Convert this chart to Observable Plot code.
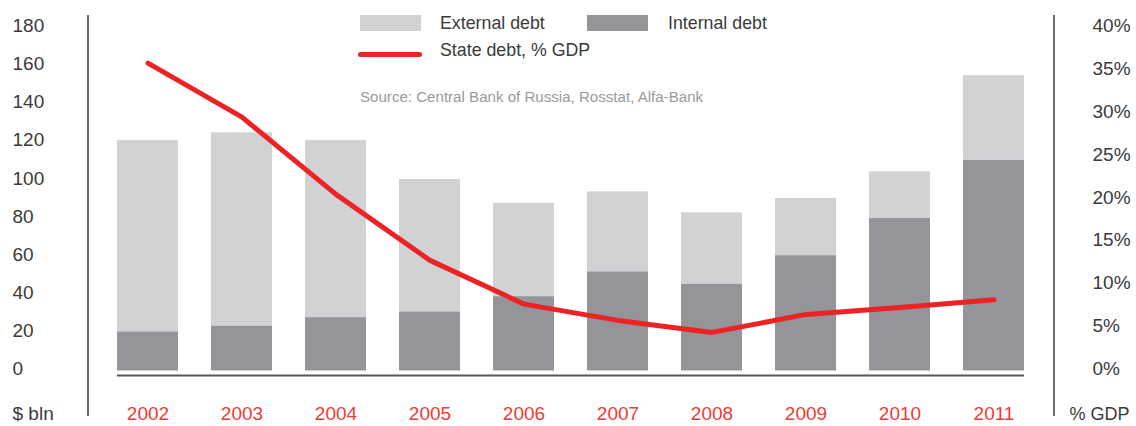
<!DOCTYPE html>
<html>
<head>
<meta charset="utf-8">
<script src="https://cdn.jsdelivr.net/npm/d3@7"></script>
<script src="https://cdn.jsdelivr.net/npm/@observablehq/plot@0.6"></script>
<style>
  html, body { margin: 0; padding: 0; background: #fff; }
  body { font-family: "Liberation Sans", Arial, sans-serif; }
  #wrap { position: relative; width: 1136px; height: 426px; overflow: hidden; }
  #legend { position: absolute; left: 0; top: 0; width: 1136px; height: 120px; pointer-events: none; color: #3a3a3a; }
  .sw { position: absolute; height: 16px; width: 61px; }
  .lt { position: absolute; font-size: 17.8px; line-height: 20px; white-space: nowrap; }
  .src { position: absolute; font-size: 15.1px; line-height: 18px; color: #9a9a9a; white-space: nowrap; }
  .ln { position: absolute; height: 5px; width: 64px; border-radius: 3px; }
</style>
</head>
<body>
<div id="wrap">
  <div id="chart"></div>
  <div id="legend"></div>
</div>
<script>
// ---- data ----
const years = ["2002", "2003", "2004", "2005", "2006", "2007", "2008", "2009", "2010", "2011"];
const internalDebt = [20.5, 23.5, 28, 31, 39, 52, 45.5, 60.5, 80, 110.5];      // $ bln
const externalDebt = [100.5, 101.5, 93, 69.5, 49, 42, 37.5, 30, 24.5, 44.5];    // $ bln
const stateDebtPctGDP = [35.9, 29.6, 20.6, 12.9, 7.8, 5.9, 4.5, 6.6, 7.4, 8.3];  // % GDP
const leftTicks = [0, 20, 40, 60, 80, 100, 120, 140, 160, 180];
const rightTicks = [0, 5, 10, 15, 20, 25, 30, 35, 40];
const legendItems = ["External debt", "Internal debt", "State debt, % GDP"];
const sourceText = "Source: Central Bank of Russia, Rosstat, Alfa-Bank";
const leftUnit = "$ bln";
const rightUnit = "% GDP";

// ---- styles ----
const cExternal = "#d1d2d4";
const cInternal = "#939598";
const cRed = "#ed2224";
const cYear = "#ef3b34";
const cText = "#3a3a3a";
const pctToLeft = 180 / 40; // right axis 0-40% aligned with left 0-180

const rows = years.map((year, i) => ({
  year,
  internal: internalDebt[i],
  total: internalDebt[i] + externalDebt[i],
  pct: stateDebtPctGDP[i]
}));
const base = [{y: 0, a: years[0], b: years[years.length - 1]}];

const chart = Plot.plot({
  width: 1136,
  height: 426,
  marginLeft: 12,
  marginRight: 6,
  marginTop: 0,
  marginBottom: 0,
  style: {fontFamily: '"Liberation Sans", Arial, sans-serif', background: "#fff"},
  x: {type: "band", domain: years, range: [117, 1025], paddingInner: 0.35, paddingOuter: 0, axis: null},
  y: {domain: [0, 180], range: [370.5, 27.5], axis: null},
  marks: [
    Plot.barY(rows, {x: "year", y1: "internal", y2: "total", fill: cExternal}),
    Plot.barY(rows, {x: "year", y1: 0, y2: "internal", fill: cInternal}),
    Plot.ruleY(base, {y: "y", x1: "a", x2: "b", dy: 4.5, stroke: "#58595b", strokeWidth: 2}),
    Plot.line(rows, {x: "year", y: d => d.pct * pctToLeft, stroke: cRed, strokeWidth: 5, strokeLinejoin: "round"}),
    Plot.text(leftTicks, {y: d => d, text: d => String(d), frameAnchor: "left", textAnchor: "start", dy: -2, fontSize: 19, fill: cText}),
    Plot.text(rightTicks, {y: d => d * pctToLeft, text: d => d + "%", frameAnchor: "right", textAnchor: "start", dx: -38, dy: -2, fontSize: 19, fill: cText}),
    Plot.text(years, {x: d => d, text: d => d, frameAnchor: "bottom", dy: -7, fontSize: 19, fill: cYear}),
    Plot.text([leftUnit], {text: d => d, frameAnchor: "bottom-left", textAnchor: "start", dy: -7, fontSize: 19, fill: cText}),
    Plot.text([rightUnit], {text: d => d, frameAnchor: "bottom-right", textAnchor: "end", dx: -1, dy: -7, fontSize: 18, fill: cText})
  ]
});
document.getElementById("chart").appendChild(chart);

// frame verticals (decoration)
const svg = d3.select(chart);
[88, 1054].forEach(xp => {
  svg.append("line").attr("x1", xp).attr("x2", xp).attr("y1", 15).attr("y2", 416)
    .attr("stroke", "#3a3a3a").attr("stroke-width", 1.5);
});

// legend overlay
const lg = document.getElementById("legend");
lg.innerHTML = `
  <div class="sw" style="left:360px;top:15px;background:${cExternal}"></div>
  <div class="lt" style="left:440px;top:13px">${legendItems[0]}</div>
  <div class="sw" style="left:587px;top:15px;background:${cInternal}"></div>
  <div class="lt" style="left:668px;top:13px">${legendItems[1]}</div>
  <div class="ln" style="left:358px;top:52px;background:${cRed}"></div>
  <div class="lt" style="left:440px;top:40px">${legendItems[2]}</div>
  <div class="src" style="left:360px;top:88px">${sourceText}</div>
`;
</script>
</body>
</html>
